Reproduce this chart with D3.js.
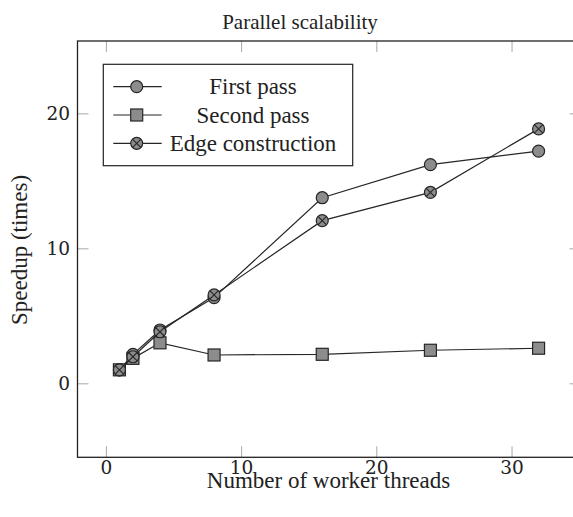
<!DOCTYPE html>
<html>
<head>
<meta charset="utf-8">
<script src="https://cdn.jsdelivr.net/npm/d3@7"></script>
<style>
  body { margin: 0; background: #fff; }
  svg { display: block; }
  text { font-family: "Liberation Serif", "DejaVu Serif", "Times New Roman", serif; }
  .tick line { stroke: #a8a8a8; stroke-width: 1; }
  .tick text { fill: #222; }
</style>
</head>
<body>
<svg id="chart" width="573" height="517"></svg>
<script>
// data
const threads = [1, 2, 4, 8, 16, 24, 32];
const firstPass = [1, 2.15, 3.95, 6.35, 13.75, 16.2, 17.2];
const secondPass = [1, 1.85, 3.0, 2.1, 2.15, 2.45, 2.6];
const edgeConstruction = [1, 1.97, 3.82, 6.55, 12.05, 14.15, 18.85];
const seriesNames = ["First pass", "Second pass", "Edge construction"];
const seriesMarks = ["circle", "square", "otimes"];
const xTicks = [0, 10, 20, 30];
const yTicks = [0, 10, 20];

const serif = '"Liberation Serif", "DejaVu Serif", serif';
const tickFont = '"DejaVu Serif", "Liberation Serif", serif';
const svg = d3.select("#chart");

const plotLeft = 77.5, plotRight = 580.5, plotTop = 41, plotBottom = 457.3;
const x = d3.scaleLinear().domain([-2.1, 35.1]).range([plotLeft, plotRight]);
const y = d3.scaleLinear().domain([-5.48, 25.36]).range([plotBottom, plotTop]);

const tickLen = 11;

// axes, ticks pointing inward on all sides
let gx = svg.append("g").attr("transform", `translate(0,${plotBottom})`)
  .call(d3.axisBottom(x).tickValues(xTicks).tickSizeInner(-tickLen).tickSizeOuter(0).tickPadding(3.5));
let gxt = svg.append("g").attr("transform", `translate(0,${plotTop})`)
  .call(d3.axisTop(x).tickValues(xTicks).tickSizeInner(-tickLen).tickSizeOuter(0).tickFormat(""));
let gy = svg.append("g").attr("transform", `translate(${plotLeft},0)`)
  .call(d3.axisLeft(y).tickValues(yTicks).tickSizeInner(-tickLen).tickSizeOuter(0).tickPadding(7.5));
let gyr = svg.append("g").attr("transform", `translate(${plotRight},0)`)
  .call(d3.axisRight(y).tickValues(yTicks).tickSizeInner(-tickLen).tickSizeOuter(0).tickFormat(""));
[gx, gxt, gy, gyr].forEach(g => g.select(".domain").remove());
[gx, gy].forEach(g => g.attr("font-family", tickFont).attr("font-size", 18.5));
gx.selectAll(".tick text").style("font-family", tickFont);
gy.selectAll(".tick text").style("font-family", tickFont);

// frame
svg.append("rect")
  .attr("x", plotLeft).attr("y", plotTop)
  .attr("width", plotRight - plotLeft).attr("height", plotBottom - plotTop)
  .attr("fill", "none").attr("stroke", "#222").attr("stroke-width", 1.3);

// series
const series = [firstPass, secondPass, edgeConstruction].map((vals, i) => ({
  name: seriesNames[i],
  mark: seriesMarks[i],
  points: threads.map((t, j) => ({ t: t, v: vals[j] }))
}));

const line = d3.line().x(d => x(d.t)).y(d => y(d.v));

function drawMark(g, mark) {
  const r = 6;
  if (mark === "square") {
    g.append("rect").attr("x", -r).attr("y", -r).attr("width", 2 * r).attr("height", 2 * r)
      .attr("fill", "#8c8c8c").attr("stroke", "#262626").attr("stroke-width", 1.2);
  } else {
    g.append("circle").attr("r", r)
      .attr("fill", "#8c8c8c").attr("stroke", "#262626").attr("stroke-width", 1.2);
    if (mark === "otimes") {
      const d = r * Math.SQRT1_2;
      g.append("path").attr("d", `M${-d},${-d}L${d},${d}M${-d},${d}L${d},${-d}`)
        .attr("stroke", "#262626").attr("stroke-width", 1.1);
    }
  }
}

series.forEach(s => {
  const g = svg.append("g");
  g.append("path").datum(s.points).attr("d", line)
    .attr("fill", "none").attr("stroke", "#262626").attr("stroke-width", 1.2);
  g.selectAll("g.mk").data(s.points).join("g").attr("class", "mk")
    .attr("transform", d => `translate(${x(d.t)},${y(d.v)})`)
    .each(function () { drawMark(d3.select(this), s.mark); });
});

// legend
const lg = svg.append("g");
lg.append("rect").attr("x", 103.3).attr("y", 64.3).attr("width", 249.4).attr("height", 101.4)
  .attr("fill", "#fff").attr("stroke", "#222").attr("stroke-width", 1.2);
series.forEach((s, i) => {
  const ly = 86.7 + i * 28.3;
  const row = lg.append("g");
  row.append("line").attr("x1", 113.3).attr("x2", 161.7).attr("y1", ly).attr("y2", ly)
    .attr("stroke", "#262626").attr("stroke-width", 1.2);
  drawMark(row.append("g").attr("transform", `translate(136.7,${ly})`), s.mark);
  row.append("text").attr("x", 253).attr("y", ly + 7.5).attr("text-anchor", "middle")
    .attr("font-family", serif).attr("font-size", 23).attr("fill", "#222").text(s.name);
});

// titles
svg.append("text").attr("x", 300).attr("y", 29).attr("text-anchor", "middle")
  .attr("font-family", serif).attr("font-size", 21).attr("fill", "#222").text("Parallel scalability");
svg.append("text").attr("x", 328.5).attr("y", 488).attr("text-anchor", "middle")
  .attr("font-family", serif).attr("font-size", 23).attr("fill", "#222").text("Number of worker threads");
svg.append("text").attr("transform", "translate(27,250) rotate(-90)").attr("text-anchor", "middle")
  .attr("font-family", serif).attr("font-size", 23).attr("fill", "#222").text("Speedup (times)");
</script>
</body>
</html>
